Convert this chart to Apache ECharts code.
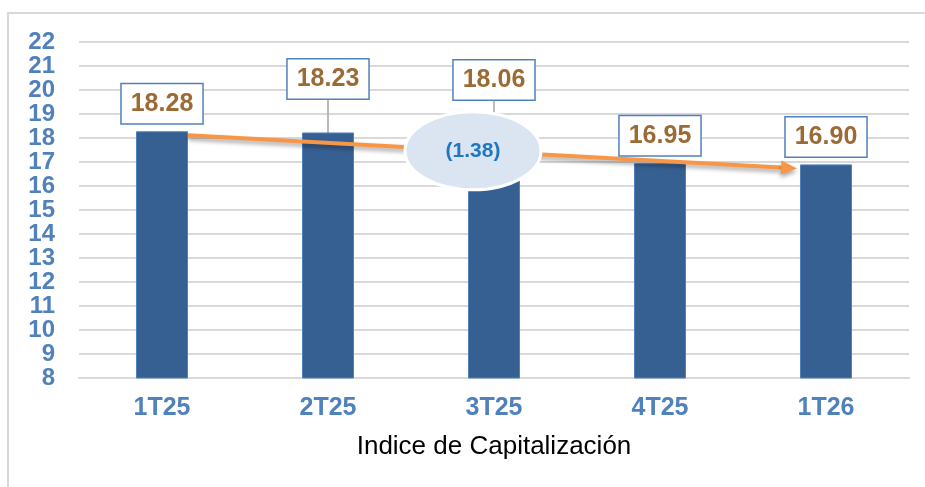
<!DOCTYPE html>
<html>
<head>
<meta charset="utf-8">
<script src="https://cdn.jsdelivr.net/npm/echarts@6/dist/echarts.min.js"></script>
<style>
  html, body { margin: 0; padding: 0; background: #fff; }
  #chart { width: 925px; height: 487px; }
</style>
</head>
<body>
<div id="chart"></div>
<script>
const categories = ['1T25', '2T25', '3T25', '4T25', '1T26'];
const values = [18.28, 18.23, 18.06, 16.95, 16.90];
// label boxes pushed up (px) for the crowded quarters
const labelLift = [0, -26, -29, 0, 0];

const chart = echarts.init(document.getElementById('chart'));
const FONT = 'Liberation Sans, Arial, sans-serif';
const BAR_W = 52;

chart.setOption({
  animation: false,
  textStyle: { fontFamily: FONT },
  grid: { left: 79, right: 16, top: 42, bottom: 109 },
  xAxis: {
    type: 'category',
    data: categories,
    axisTick: { show: false },
    axisLine: { lineStyle: { color: '#d9d9d9', width: 2 } },
    axisLabel: { color: '#4f81bd', fontSize: 25, fontWeight: 'bold', margin: 18 },
    name: 'Indice de Capitalización',
    nameLocation: 'middle',
    nameGap: 56,
    nameTextStyle: { color: '#000', fontSize: 26 },
  },
  yAxis: {
    type: 'value',
    min: 8,
    max: 22,
    interval: 1,
    axisLine: { show: false },
    axisTick: { show: false },
    axisLabel: { color: '#4f81bd', fontSize: 24, fontWeight: 'bold', margin: 24 },
    splitLine: { lineStyle: { color: '#d9d9d9', width: 2 } },
  },
  series: [
    {
      type: 'bar',
      barWidth: BAR_W,
      itemStyle: { color: '#376092', borderColor: '#4f81bd', borderWidth: 1 },
      data: values.map((v, i) => ({
        value: v,
        labelLine: { show: labelLift[i] !== 0 },
      })),
      label: {
        show: true,
        position: 'top',
        distance: 8,
        formatter: (p) => p.value.toFixed(2),
        color: '#9c6a35',
        fontSize: 25,
        fontWeight: 'bold',
        lineHeight: 25,
        backgroundColor: '#fff',
        borderColor: '#4f81bd',
        borderWidth: 1.5,
        padding: [7, 9],
      },
      labelLayout: (p) => ({ dy: labelLift[p.dataIndex] }),
      labelLine: { lineStyle: { color: '#a6a6a6', width: 1.5 } },
    },
  ],
});

// trend arrow from first to last quarter, with the change in an ellipse
const p0 = chart.convertToPixel({ seriesIndex: 0 }, [0, values[0]]);
const p1 = chart.convertToPixel({ seriesIndex: 0 }, [categories.length - 1, values[values.length - 1]]);
const pMid = chart.convertToPixel({ seriesIndex: 0 }, [2, values[2]]);
const x0 = p0[0] + BAR_W / 2, y0 = p0[1] + 4;
const x1 = p1[0] - BAR_W / 2 - 3, y1 = p1[1] + 4;
const ang = Math.atan2(y1 - y0, x1 - x0);
const headL = 16, headW = 7;
const bx = x1 - headL * Math.cos(ang), by = y1 - headL * Math.sin(ang);
const ex = pMid[0] - 21;
const ey = y0 + (ex - x0) / (x1 - x0) * (y1 - y0);
const change = values[0] - values[values.length - 1];
const shadow = { shadowBlur: 4, shadowColor: 'rgba(0,0,0,0.35)', shadowOffsetY: 3 };

chart.setOption({
  graphic: [
    {
      type: 'polyline',
      z: 0,
      shape: { points: [[925, 13], [8, 13], [8, 487]] },
      style: { stroke: '#d9d9d9', lineWidth: 2, fill: null },
    },
    {
      type: 'line',
      z: 50,
      shape: { x1: x0, y1: y0, x2: bx, y2: by },
      style: Object.assign({ stroke: '#f79646', lineWidth: 4 }, shadow),
    },
    {
      type: 'polygon',
      z: 50,
      shape: {
        points: [
          [x1, y1],
          [bx - headW * Math.sin(ang), by + headW * Math.cos(ang)],
          [bx + headW * Math.sin(ang), by - headW * Math.cos(ang)],
        ],
      },
      style: Object.assign({ fill: '#f79646' }, shadow),
    },
    {
      type: 'ellipse',
      z: 100,
      shape: { cx: ex, cy: ey, rx: 68, ry: 39 },
      style: { fill: '#dbe5f1', stroke: '#fff', lineWidth: 3 },
    },
    {
      type: 'text',
      z: 101,
      x: ex,
      y: ey,
      style: {
        text: '(' + change.toFixed(2) + ')',
        fill: '#1f77c0',
        font: 'bold 21px ' + FONT,
        align: 'center',
        verticalAlign: 'middle',
      },
    },
  ],
});
</script>
</body>
</html>
